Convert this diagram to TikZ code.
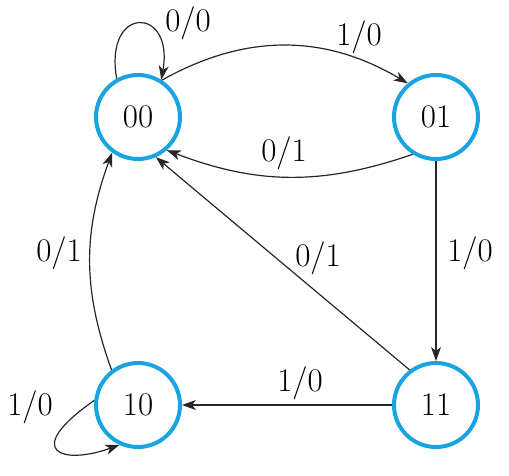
\documentclass[tikz,border=0pt]{standalone}
\usetikzlibrary{arrows.meta}
\definecolor{stateblue}{RGB}{25,163,225}
\begin{document}
\begin{tikzpicture}[x=1pt,y=1pt,
  state/.style={circle,draw=stateblue,line width=4pt,minimum size=84pt,inner sep=0pt,
    font=\fontsize{33}{33}\selectfont},
  lbl/.style={font=\fontsize{33}{33}\selectfont,inner sep=0pt},
  arr/.style={draw=black!85,line width=1.2pt,-{Stealth[length=14pt,width=10pt,inset=4pt]}}]
\useasboundingbox (0,0) rectangle (509,-475);
\node[state] (A) at (138,-117) {00};
\node[state] (B) at (436,-117) {01};
\node[state] (C) at (138,-405) {10};
\node[state] (D) at (436,-405) {11};
% self loop 00
\draw[arr] (A.119) .. controls +(100:75) and +(80:75) .. (A.58);
% 00 -> 01
\draw[arr] (A.57) to[bend left=30] (B.130);
% 01 -> 00
\draw[arr] (B.238) to[bend left=20] (A.-49);
% 11 -> 00
\draw[arr] (D.127) -- (A.-66);
% 01 -> 11
\draw[arr] (B.south) -- (D.north);
% 11 -> 10
\draw[arr] (D.west) -- (C.east);
% 10 -> 00
\draw[arr] (C.127) to[bend left=20] (A.234);
% self loop 10
\draw[arr] (C.174) .. controls +(215:90) and +(200:60) .. (C.245);
% labels
\node[lbl] (l1) at (188,-23) {0/0};
\node[lbl] (l2) at (359,-37) {1/0};
\node[lbl] (l3) at (284,-153) {0/1};
\node[lbl] (l4) at (318,-258) {0/1};
\node[lbl] (l5) at (470,-253) {1/0};
\node[lbl] (l6) at (300,-383) {1/0};
\node[lbl] (l7) at (59,-253) {0/1};
\node[lbl] (l8) at (30,-407) {1/0};
\end{tikzpicture}
\end{document}
